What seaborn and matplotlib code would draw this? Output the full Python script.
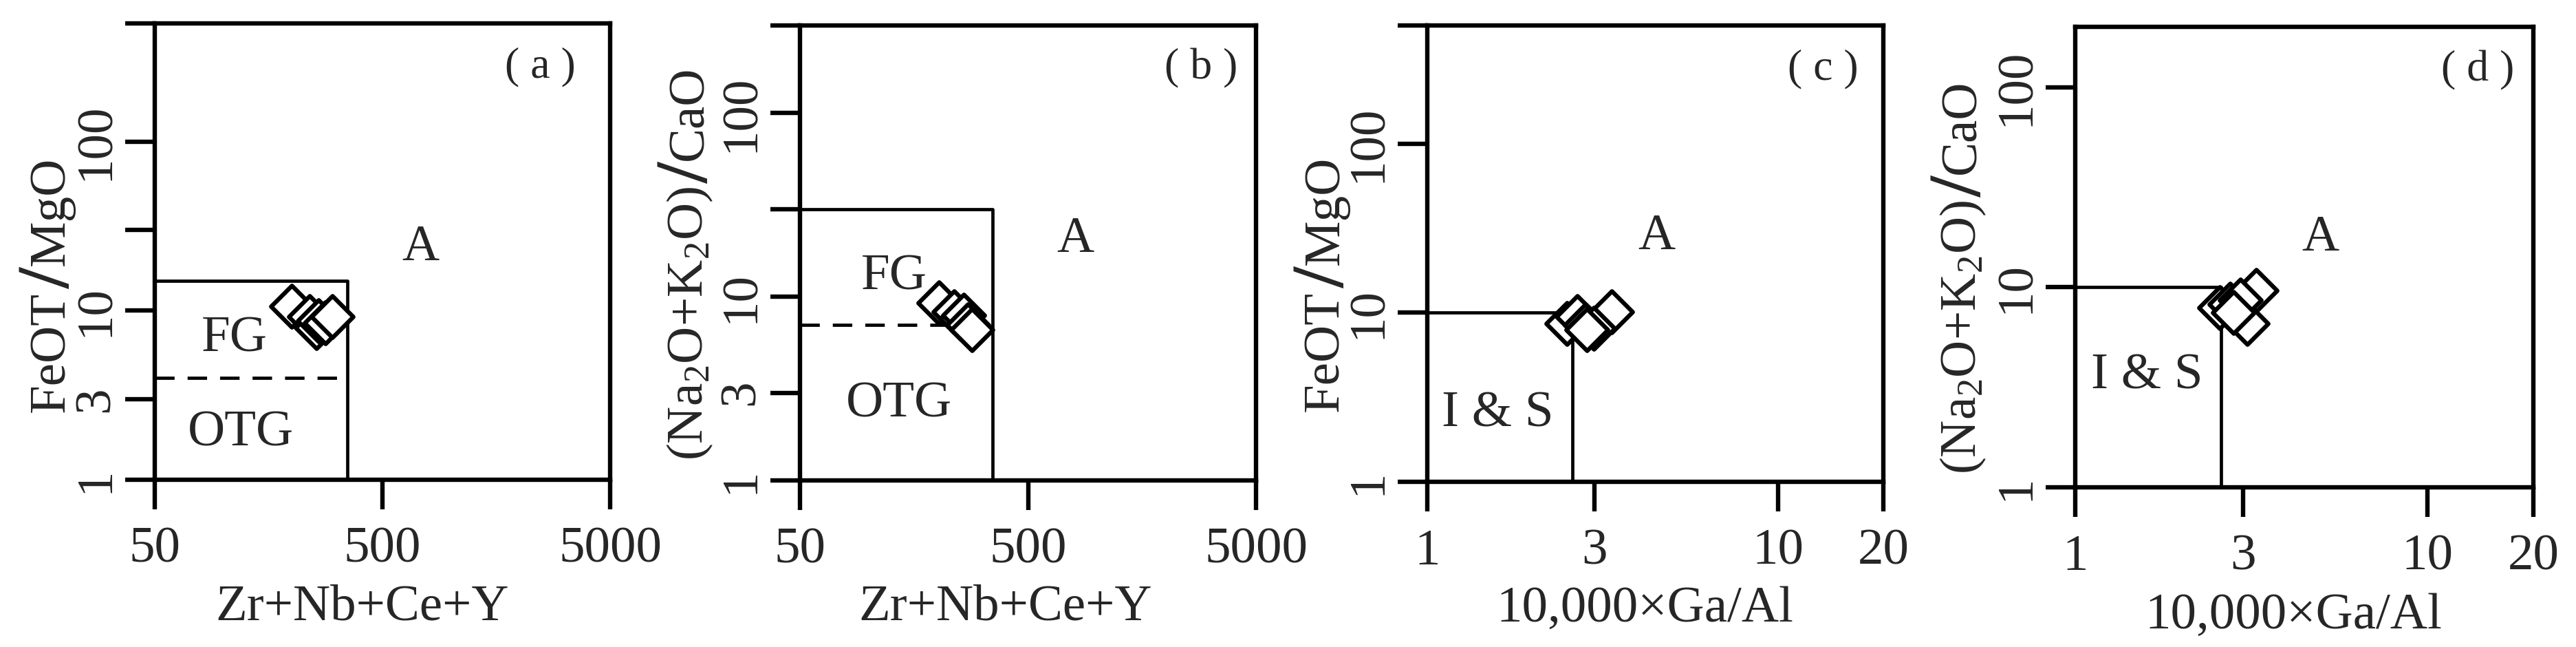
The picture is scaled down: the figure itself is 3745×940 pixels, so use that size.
import matplotlib
matplotlib.use("Agg")
import matplotlib.pyplot as plt
import seaborn as sns

# sample points
a_x = [200, 239, 257, 262, 280, 301]          # Zr+Nb+Ce+Y
a_y = [10.6, 9.2, 7.9, 8.7, 8.5, 9.2]         # FeOT/MgO
b_x = [203, 237, 254, 262, 272, 284]          # Zr+Nb+Ce+Y
b_y = [9.3, 8.3, 7.6, 7.9, 7.0, 6.6]          # (Na2O+K2O)/CaO
c_x = [3.36, 2.50, 2.68, 2.83, 2.98, 2.85]    # 10000*Ga/Al
c_y = [10.1, 8.6, 9.5, 8.5, 8.1, 7.9]         # FeOT/MgO
d_x = [3.26, 3.08, 2.57, 2.75, 2.94, 2.82]    # 10000*Ga/Al
d_y = [9.6, 6.6, 7.9, 8.2, 8.6, 7.5]          # (Na2O+K2O)/CaO

# field boundaries
fg_box_a = ([50, 350, 350], [15, 15, 1])
otg_line_a = ([50, 350], [4, 4])
fg_box_b = ([50, 350, 350], [30, 30, 1])
otg_line_b = ([50, 350], [7, 7])
is_box = ([1, 2.6, 2.6], [10, 10, 1])

zr_ticks = [50, 500, 5000]
ga_ticks = [1, 3, 10, 20]

sns.set_style("ticks")
plt.rcParams["font.family"] = ["Liberation Serif", "DejaVu Serif"]
plt.rcParams["mathtext.fontset"] = "custom"
plt.rcParams["mathtext.rm"] = "Liberation Serif"
plt.rcParams["mathtext.it"] = "Liberation Serif:italic"

W, H = 3745, 940
fig = plt.figure(figsize=(W / 100, H / 100), dpi=100)
renderer = fig.canvas.get_renderer()

def rect(l, r, t, b):
    return [l / W, 1 - b / H, (r - l) / W, (b - t) / H]

# y labels are written as pieces so the slash can be drawn big, as in the source figure
ylab_feo = ["FeOT", "/", "MgO"]
ylab_alk = [r"(Na$_\mathrm{2}$O+K$_\mathrm{2}$O)", "/", "CaO"]
xlab_zr = "Zr+Nb+Ce+Y"
xlab_ga = "10,000×Ga/Al"

def stacked_ylabel(ax, pieces, xc, yc):
    ax_h = ax.get_window_extent(renderer).height
    texts = []
    for s in pieces:
        if s == "/":
            t = ax.text(xc, 0, s, transform=ax.transAxes, rotation=90, fontsize=78,
                        fontweight="bold", ha="center", va="bottom")
        else:
            t = ax.text(xc, 0, s, transform=ax.transAxes, rotation=90, fontsize=54,
                        ha="center", va="bottom")
        texts.append(t)
    hs = [t.get_window_extent(renderer).height / ax_h for t in texts]
    gap = 0.006
    total = sum(hs) + gap * (len(hs) - 1)
    y = yc - total / 2
    for t, h in zip(texts, hs):
        t.set_y(y)
        y += h + gap

panels = [
    dict(pos=(225, 887, 34, 697), x=a_x, y=a_y, xlim=(50, 5000), ylim=(1, 500),
         xt=zr_ticks, yt=[1, 3, 10, 30, 100, 500], ytl=["1", "3", "10", "", "100", ""],
         xlab=xlab_zr, ylab=ylab_feo, tag="( a )", tagx=0.846, lx=0.455,
         yx=-0.226, yc=0.428,
         box=fg_box_a, dash=otg_line_a,
         labels=[("A", 733, 23.5), ("FG", 112, 6.8), ("OTG", 119, 1.88)]),
    dict(pos=(1163, 1826, 37, 698), x=b_x, y=b_y, xlim=(50, 5000), ylim=(1, 300),
         xt=zr_ticks, yt=[1, 3, 10, 30, 100, 300], ytl=["1", "3", "10", "", "100", ""],
         xlab=xlab_zr, ylab=ylab_alk, tag="( b )", tagx=0.879, lx=0.45,
         yx=-0.241, yc=0.478,
         box=fg_box_b, dash=otg_line_b,
         labels=[("A", 806, 20.4), ("FG", 129, 12.8), ("OTG", 136, 2.6)]),
    dict(pos=(2075, 2738, 37, 700), x=c_x, y=c_y, xlim=(1, 20), ylim=(1, 500),
         xt=ga_ticks, yt=[1, 10, 100, 500], ytl=["1", "10", "100", ""],
         xlab=xlab_ga, ylab=ylab_feo, tag="( c )", tagx=0.867, lx=0.477,
         yx=-0.222, yc=0.434,
         box=is_box, dash=None,
         labels=[("A", 4.5, 28), ("I & S", 1.59, 2.5)]),
    dict(pos=(3017, 3683, 39, 708), x=d_x, y=d_y, xlim=(1, 20), ylim=(1, 200),
         xt=ga_ticks, yt=[1, 10, 100], ytl=["1", "10", "100"],
         xlab=xlab_ga, ylab=ylab_alk, tag="( d )", tagx=0.878, lx=0.477,
         yx=-0.245, yc=0.457,
         box=is_box, dash=None,
         labels=[("A", 4.97, 17.5), ("I & S", 1.6, 3.6)]),
]

for p in panels:
    ax = fig.add_axes(rect(*p["pos"]))
    ax.set_xscale("log")
    ax.set_yscale("log")

    bx, by = p["box"]
    ax.plot(bx, by, color="black", lw=3.4, zorder=2)
    if p["dash"] is not None:
        ax.plot(p["dash"][0], p["dash"][1], color="black", lw=3.4,
                linestyle=(0, (6, 4)), zorder=2)

    sns.scatterplot(x=p["x"], y=p["y"], marker="D", s=950, color="white",
                    edgecolor="black", linewidth=4.5, ax=ax, zorder=3, clip_on=False)

    ax.set_xlim(*p["xlim"])
    ax.set_ylim(*p["ylim"])
    ax.set_xticks(p["xt"])
    ax.set_xticklabels([str(v) for v in p["xt"]])
    ax.set_yticks(p["yt"])
    ax.set_yticklabels(p["ytl"], rotation=90, va="center")
    ax.minorticks_off()
    ax.tick_params(axis="both", length=31, width=4.6, labelsize=54, color="black")
    ax.tick_params(axis="x", pad=18)
    ax.tick_params(axis="y", pad=6)
    for s in ax.spines.values():
        s.set_linewidth(4.6)
        s.set_color("black")

    ax.set_xlabel(p["xlab"], fontsize=54)
    ax.xaxis.set_label_coords(p["lx"], -0.28)
    ax.xaxis.label.set_va("center")
    ax.set_ylabel("")
    stacked_ylabel(ax, p["ylab"], p["yx"], p["yc"])

    for txt, tx, ty in p["labels"]:
        ax.text(tx, ty, txt, fontsize=54, ha="center", va="center")
    ax.text(p["tagx"], 0.905, p["tag"], transform=ax.transAxes, fontsize=46,
            ha="center", va="center")

fig.savefig("out.png", dpi=100)
